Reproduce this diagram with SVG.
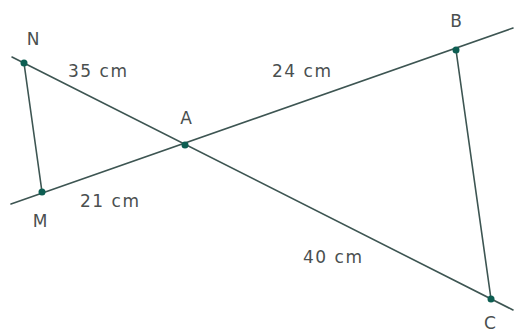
<svg xmlns="http://www.w3.org/2000/svg" width="515" height="334" viewBox="0 0 515 334">
<style>
.ln{stroke:#3d5552;stroke-width:1.6;fill:none;stroke-linecap:round}
.pt{fill:#0d5e52}
.lb{font-family:"DejaVu Sans","Liberation Sans",sans-serif;font-size:17px;fill:#4a4f4f}
.ms{letter-spacing:1.5px}
</style>
<rect width="515" height="334" fill="#fff"/>
<g id="connectors">
<line class="ln" x1="12" y1="57" x2="513" y2="310"/>
<line class="ln" x1="11" y1="204" x2="513" y2="28"/>
<line class="ln" x1="24" y1="63" x2="42" y2="192"/>
<line class="ln" x1="456" y1="50" x2="491" y2="299"/>
</g>
<g id="N"><circle class="pt" cx="24" cy="63" r="3.5"/><text class="lb" x="33" y="45" text-anchor="middle">N</text></g>
<g id="M"><circle class="pt" cx="42" cy="192" r="3.5"/><text class="lb" x="40" y="227" text-anchor="middle">M</text></g>
<g id="A"><circle class="pt" cx="185" cy="145" r="3.5"/><text class="lb" x="186" y="124" text-anchor="middle">A</text></g>
<g id="B"><circle class="pt" cx="456" cy="50" r="3.5"/><text class="lb" x="456" y="27" text-anchor="middle">B</text></g>
<g id="C"><circle class="pt" cx="491" cy="299" r="3.5"/><text class="lb" x="490" y="329" text-anchor="middle">C</text></g>
<g id="labels">
<text class="lb ms" x="68" y="77">35 cm</text>
<text class="lb ms" x="272" y="77">24 cm</text>
<text class="lb ms" x="80" y="207">21 cm</text>
<text class="lb ms" x="303" y="263">40 cm</text>
</g>
</svg>
